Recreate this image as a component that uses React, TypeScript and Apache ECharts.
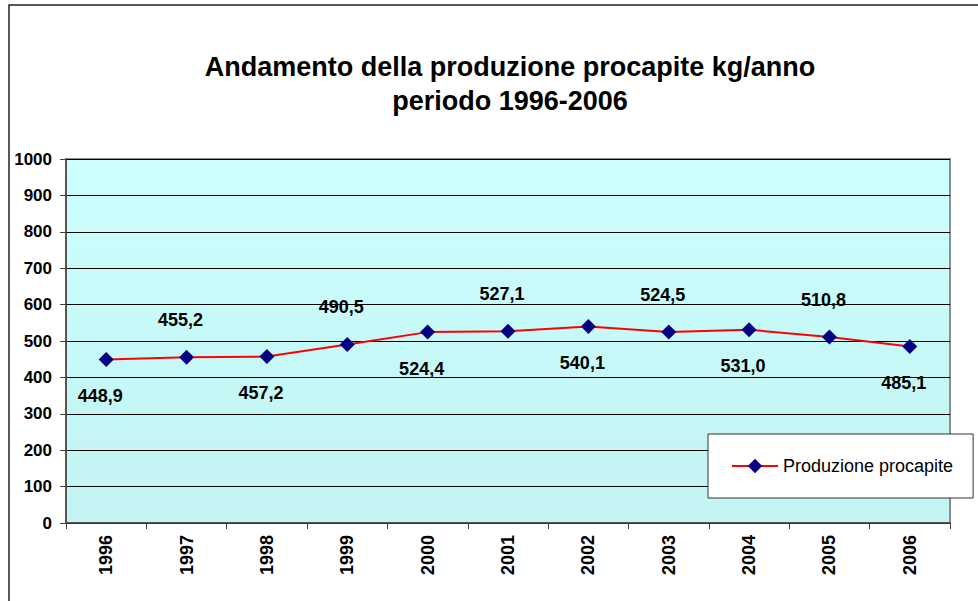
import React, { useEffect, useRef } from "react";
import * as echarts from "echarts";

const years = ["1996", "1997", "1998", "1999", "2000", "2001", "2002", "2003", "2004", "2005", "2006"];
const procapite = [448.9, 455.2, 457.2, 490.5, 524.4, 527.1, 540.1, 524.5, 531.0, 510.8, 485.1];
const seriesName = "Produzione procapite";
const titleText = "Andamento della produzione procapite kg/anno\nperiodo 1996-2006";

const FONT = "'Liberation Sans', Arial, sans-serif";

export default function App() {
  const ref = useRef<HTMLDivElement>(null);
  useEffect(() => {
    if (!ref.current) return;
    const chart = echarts.init(ref.current, null, { renderer: "svg" });
    const data = procapite.map((v, i) => ({
      value: v,
      label: {
        position: i % 2 === 0 ? "bottom" : "top",
        distance: i % 2 === 0 ? 20 : 21,
      },
    }));
    chart.setOption({
      animation: false,
      backgroundColor: "#ffffff",
      textStyle: { fontFamily: FONT },
      title: {
        text: titleText,
        left: 505,
        top: 45,
        textAlign: "center",
        textStyle: {
          fontFamily: FONT,
          fontSize: 27,
          fontWeight: "bold",
          color: "#000",
          lineHeight: 34,
        },
      },
      graphic: [
        {
          type: "rect",
          shape: { x: 9, y: 5, width: 1000, height: 1000 },
          style: { fill: "none", stroke: "#222", lineWidth: 1.5 },
          silent: true,
          z: -1,
        },
      ],
      grid: {
        left: 66,
        right: 28,
        top: 159,
        bottom: 78,
        show: true,
        borderColor: "#8c8c8c",
        borderWidth: 2,
        backgroundColor: new echarts.graphic.LinearGradient(0, 0, 0, 1, [
          { offset: 0, color: "#ccffff" },
          { offset: 1, color: "#c3f3f3" },
        ]),
      },
      legend: {
        left: 708,
        top: 434,
        orient: "vertical",
        data: [seriesName],
        backgroundColor: "#ffffff",
        borderColor: "#333",
        borderWidth: 1,
        padding: [23, 20, 23, 23],
        itemWidth: 46,
        itemHeight: 18,
        itemGap: 0,
        textStyle: { fontFamily: FONT, fontSize: 18, color: "#000" },
      },
      xAxis: {
        type: "category",
        data: years,
        boundaryGap: true,
        axisLine: { lineStyle: { color: "#444", width: 1.5 } },
        axisTick: { show: true, interval: 0, length: 6, alignWithLabel: false, lineStyle: { color: "#444" } },
        axisLabel: {
          rotate: 90,
          margin: 12,
          interval: 0,
          fontFamily: FONT,
          fontSize: 18,
          fontWeight: "bold",
          color: "#000",
        },
        splitLine: { show: false },
      },
      yAxis: {
        type: "value",
        min: 0,
        max: 1000,
        interval: 100,
        axisLine: { show: true, lineStyle: { color: "#444", width: 1.5 } },
        axisTick: { show: true, length: 6, lineStyle: { color: "#444" } },
        axisLabel: {
          margin: 14,
          fontFamily: FONT,
          fontSize: 17,
          fontWeight: "bold",
          color: "#000",
          formatter: (v: number) => String(v),
        },
        splitLine: { show: true, lineStyle: { color: "#000", width: 1 } },
      },
      series: [
        {
          name: seriesName,
          type: "line",
          data,
          symbol: "diamond",
          symbolSize: 15,
          lineStyle: { color: "#ff0000", width: 2 },
          itemStyle: { color: "#000080" },
          label: {
            show: true,
            formatter: (p: any) => p.value.toFixed(1).replace(".", ","),
            fontFamily: FONT,
            fontSize: 18,
            fontWeight: "bold",
            color: "#000",
            offset: [-6, 0],
          },
        },
      ],
    });
    return () => chart.dispose();
  }, []);
  return (
    <div
      ref={ref}
      style={{ position: "absolute", left: 0, top: 0, width: 978, height: 601 }}
    />
  );
}
